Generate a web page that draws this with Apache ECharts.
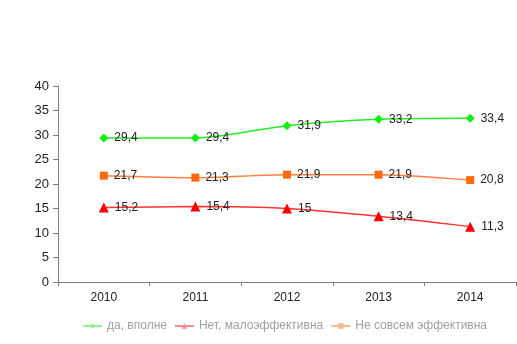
<!DOCTYPE html>
<html>
<head>
<meta charset="utf-8">
<script src="https://cdn.jsdelivr.net/npm/echarts@6/dist/echarts.min.js"></script>
<style>
  html, body { margin: 0; padding: 0; background: #ffffff; }
  #chart { width: 517px; height: 344px; }
</style>
</head>
<body>
<div id="chart"></div>
<script>
// Survey answers by year
const years = ['2010', '2011', '2012', '2013', '2014'];
const seriesNames = ['да, вполне', 'Нет, малоэффективна', 'Не совсем эффективна'];
const fullyValues = [29.4, 29.4, 31.9, 33.2, 33.4];
const lowValues = [15.2, 15.4, 15, 13.4, 11.3];
const partlyValues = [21.7, 21.3, 21.9, 21.9, 20.8];

const fmt = p => String(p.value).replace('.', ',');

function lineSeries(name, data, color, markerColor, symbol, size) {
  return {
    name: name,
    type: 'line',
    data: data,
    smooth: 0.25,
    symbol: symbol,
    symbolSize: size,
    lineStyle: { color: color, width: 1.5 },
    itemStyle: { color: markerColor },
    label: {
      show: true,
      position: 'right',
      distance: 6,
      formatter: fmt,
      color: '#222',
      fontFamily: 'Liberation Sans, Arial, sans-serif',
      fontSize: 12
    },
    emphasis: { disabled: true }
  };
}

const chart = echarts.init(document.getElementById('chart'));
chart.setOption({
  animation: false,
  backgroundColor: '#ffffff',
  grid: { left: 58, right: 1, top: 86, bottom: 62 },
  legend: {
    top: 320,
    left: 82,
    width: 435,
    itemWidth: 19,
    itemHeight: 7,
    itemGap: 7,
    padding: 0,
    textStyle: { color: '#a0a0a0', fontSize: 12, fontFamily: 'Liberation Sans, Arial, sans-serif' },
    data: [
      { name: seriesNames[0], itemStyle: { color: '#8ef58e' }, lineStyle: { color: '#8ef58e' } },
      { name: seriesNames[1], itemStyle: { color: '#f58e8e' }, lineStyle: { color: '#f58e8e' } },
      { name: seriesNames[2], itemStyle: { color: '#f8b88e' }, lineStyle: { color: '#f8b88e' } }
    ]
  },
  xAxis: {
    type: 'category',
    data: years,
    boundaryGap: true,
    axisLine: { lineStyle: { color: '#808080', width: 1 } },
    axisTick: { show: true, length: 4, lineStyle: { color: '#808080' } },
    axisLabel: { color: '#222', fontSize: 12, margin: 10, fontFamily: 'Liberation Sans, Arial, sans-serif' }
  },
  yAxis: {
    type: 'value',
    min: 0,
    max: 40,
    interval: 5,
    splitLine: { show: false },
    axisLine: { show: true, lineStyle: { color: '#808080', width: 1 } },
    axisTick: { show: true, length: 5, lineStyle: { color: '#808080' } },
    axisLabel: { color: '#222', fontSize: 13, margin: 9, fontFamily: 'Liberation Sans, Arial, sans-serif' }
  },
  series: [
    lineSeries(seriesNames[0], fullyValues, '#22ee22', '#11ee11', 'diamond', 9),
    lineSeries(seriesNames[1], lowValues, '#ff3333', '#ff0000', 'triangle', 10),
    lineSeries(seriesNames[2], partlyValues, '#ff8040', '#ff6a10', 'rect', 8)
  ]
});
</script>
</body>
</html>
